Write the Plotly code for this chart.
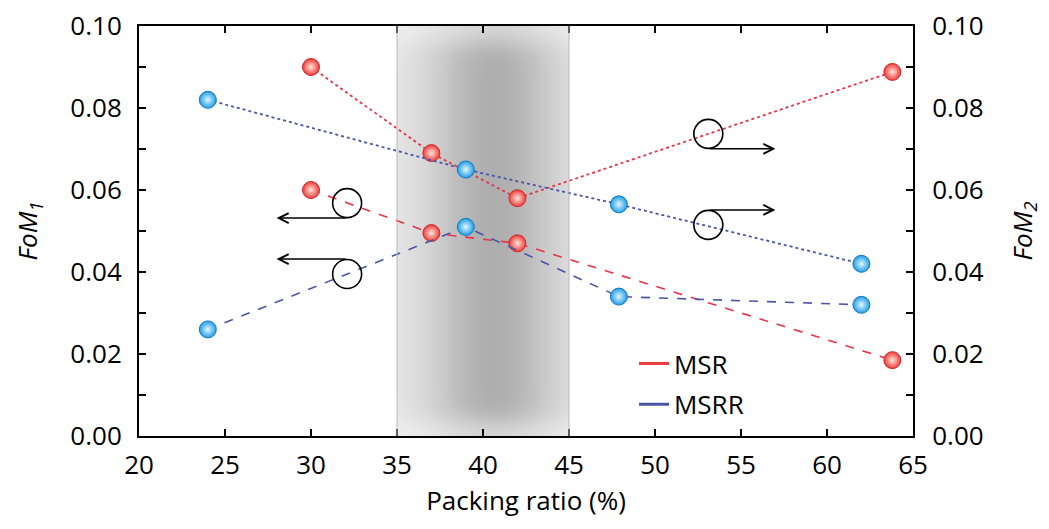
import plotly.graph_objects as go
import numpy as np

# ---- data ----
msr_x = [30, 37, 42, 63.8]
msr_fom1 = [0.060, 0.0495, 0.047, 0.0185]
msr_fom2 = [0.090, 0.069, 0.058, 0.0888]

msrr_x = [24, 39, 47.9, 62]
msrr_fom1 = [0.026, 0.051, 0.034, 0.032]
msrr_fom2 = [0.082, 0.065, 0.0565, 0.042]

x_ticks = [20, 25, 30, 35, 40, 45, 50, 55, 60, 65]
y_ticks = [0.00, 0.02, 0.04, 0.06, 0.08, 0.10]
band = [35, 45]

RED = "#ee3a3a"
RED_LINE = "#e8334a"
BLUE = "#1e9ee6"
BLUE_LINE = "#4a55a8"
FONT = "Open Sans"
FS = 26

fig = go.Figure()

# gray gradient band as a smooth heatmap
nx, ny = 60, 60
xe = np.linspace(band[0], band[1], nx + 1)
ye = np.linspace(0, 0.1, ny + 1)
xc = 0.5 * (xe[:-1] + xe[1:])
yc = 0.5 * (ye[:-1] + ye[1:])
dark_x = 62 * np.exp(-((xc - 40.6) / 3.9) ** 2) + 8
d_edge = np.minimum(yc, 0.1 - yc)
fade_y = 1 - 0.55 * np.exp(-(d_edge / 0.005) ** 2)
Z = 244 - np.outer(fade_y, dark_x)
fig.add_trace(go.Heatmap(x=xe, y=ye, z=Z, zmin=0, zmax=255, zsmooth="best",
                         colorscale=[[0, "rgb(0,0,0)"], [1, "rgb(255,255,255)"]],
                         showscale=False, hoverinfo="skip", showlegend=False))
for bx in band:
    fig.add_shape(type="line", xref="x", yref="y", x0=bx, x1=bx, y0=0, y1=0.1,
                  line=dict(color="#b8b8b8", width=1))

marker_red = dict(size=17, color=RED, gradient=dict(type="radial", color="#fde6da"),
                  line=dict(color="#d02a2a", width=1))
marker_blue = dict(size=17, color=BLUE, gradient=dict(type="radial", color="#e4f6ff"),
                   line=dict(color="#1478c0", width=1))

fig.add_trace(go.Scatter(x=msr_x, y=msr_fom1, mode="lines+markers",
                         line=dict(color=RED_LINE, width=1.6, dash="dash"),
                         marker=marker_red, showlegend=False, yaxis="y"))
fig.add_trace(go.Scatter(x=msr_x, y=msr_fom2, mode="lines+markers",
                         line=dict(color=RED_LINE, width=1.8, dash="dot"),
                         marker=marker_red, showlegend=False, yaxis="y2"))
fig.add_trace(go.Scatter(x=msrr_x, y=msrr_fom1, mode="lines+markers",
                         line=dict(color=BLUE_LINE, width=1.6, dash="dash"),
                         marker=marker_blue, showlegend=False, yaxis="y"))
fig.add_trace(go.Scatter(x=msrr_x, y=msrr_fom2, mode="lines+markers",
                         line=dict(color=BLUE_LINE, width=1.8, dash="dot"),
                         marker=marker_blue, showlegend=False, yaxis="y2"))

# legend entries
fig.add_trace(go.Scatter(x=[None], y=[None], mode="lines", name="MSR",
                         line=dict(color=RED, width=3), legendgroup="a"))
fig.add_trace(go.Scatter(x=[None], y=[None], mode="lines", name="MSRR",
                         line=dict(color=BLUE_LINE, width=3), legendgroup="b"))

# circles with arrows (axis indicators): (x, y, arrow direction, arrow on top/bottom)
circles = [(32.1, 0.0568, "left", "bottom"), (32.1, 0.0395, "left", "top"),
           (53.1, 0.0737, "right", "bottom"), (53.1, 0.0515, "right", "top")]
R = 14.5
for cx, cy, d, side in circles:
    fig.add_shape(type="circle", xref="x", yref="y", xsizemode="pixel", ysizemode="pixel",
                  xanchor=cx, yanchor=cy, x0=-R, x1=R, y0=-R, y1=R,
                  line=dict(color="black", width=1.6))
    ay = cy - 0.00365 if side == "bottom" else cy + 0.00365
    tip = 28.0 if d == "left" else 57.0
    fig.add_annotation(x=tip, y=ay, ax=cx, ay=ay, xref="x", yref="y",
                       axref="x", ayref="y", showarrow=True, arrowhead=5,
                       arrowsize=1.3, arrowwidth=1.5, arrowcolor="black", text="")

axis_common = dict(showline=True, linecolor="black", linewidth=2, ticks="inside",
                   ticklen=7, tickwidth=2, tickcolor="black", showgrid=False,
                   zeroline=False, automargin=False, ticklabeloverflow="allow",
                   tickfont=dict(family=FONT, size=FS, color="black"))

# page body has an 8px margin: compensate so the plot area lands at 139..913 x 26..436
fig.update_layout(
    width=1049, height=529,
    margin=dict(l=131, r=144, t=18, b=101),
    plot_bgcolor="white", paper_bgcolor="white",
    font=dict(family=FONT, size=FS, color="black"),
    xaxis=dict(range=[20, 65], tickvals=x_ticks, mirror="ticks", ticklabelstandoff=5,
               title=dict(text="Packing ratio (%)", font=dict(family=FONT, size=FS), standoff=11),
               **axis_common),
    yaxis=dict(range=[0, 0.1], tickvals=y_ticks, tickformat=".2f", ticklabelstandoff=10,
               minor=dict(dtick=0.01, ticks="inside", ticklen=7, tickwidth=2, tickcolor="black"),
               title=dict(text="<i>FoM</i><sub><i>1</i></sub>", font=dict(family=FONT, size=FS),
                          standoff=25),
               **axis_common),
    yaxis2=dict(range=[0, 0.1], tickvals=y_ticks, tickformat=".2f", overlaying="y",
                side="right", ticklabelstandoff=12,
                minor=dict(dtick=0.01, ticks="inside", ticklen=7, tickwidth=2, tickcolor="black"),
                title=dict(text="<i>FoM</i><sub><i>2</i></sub>", font=dict(family=FONT, size=FS),
                           standoff=31),
                **axis_common),
    legend=dict(x=0.6395, y=0.234, xanchor="left", yanchor="top", bgcolor="rgba(0,0,0,0)",
                font=dict(family=FONT, size=FS), tracegroupgap=4, traceorder="grouped"),
)

fig.write_html("out.html")
